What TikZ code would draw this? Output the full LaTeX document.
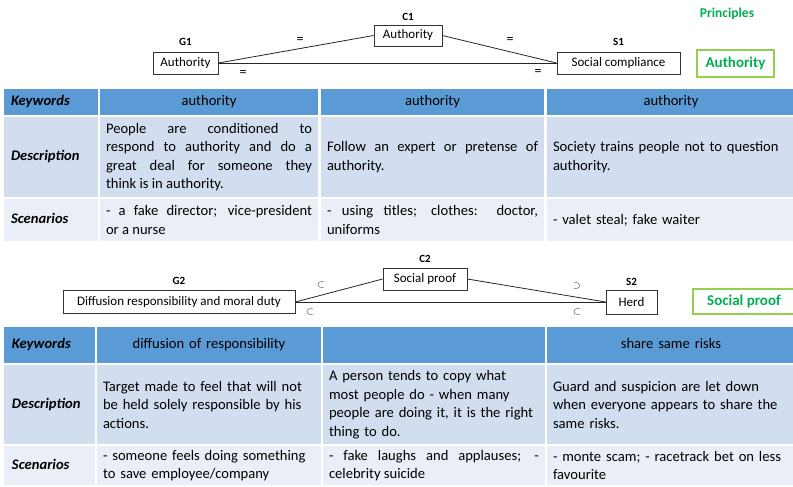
\documentclass[tikz,border=0pt]{standalone}
\usepackage{fontspec}
\setmainfont{Carlito}
\usetikzlibrary{positioning}

\definecolor{hdblue}{HTML}{5B9BD5}
\definecolor{descblue}{HTML}{D2DEEF}
\definecolor{scenblue}{HTML}{EAEFF7}
\definecolor{princgreen}{HTML}{00B050}
\definecolor{princframe}{HTML}{92D050}

\newcommand{\cellfont}{\fontsize{14.6}{18.5}\selectfont\hyphenpenalty 10000 \exhyphenpenalty 10000 }

\tikzstyle{concept}=[draw=black!80, line width=0.8pt, inner sep=0pt, minimum height=22pt, font=\fontsize{13}{15}\selectfont]
\tikzstyle{tag}=[font=\bfseries\fontsize{11}{12}\selectfont, inner sep=0pt]
\tikzstyle{rel}=[font=\fontsize{14}{15}\selectfont, inner sep=0pt]
\tikzstyle{link}=[line width=0.8pt, black!85]
\tikzstyle{principle}=[draw=princframe, line width=2pt, text=princgreen, inner sep=0pt, font=\bfseries\fontsize{15}{17}\selectfont]
\tikzstyle{cell}=[inner xsep=6pt, inner ysep=0pt, font=\cellfont]
\tikzstyle{hd}=[cell, fill=hdblue, align=center, text height=10.5pt, text depth=3pt]
\tikzstyle{desc}=[cell, fill=descblue]
\tikzstyle{scen}=[cell, fill=scenblue]
\tikzstyle{rowname}=[align=left, inner sep=0pt, text height=10.5pt, text depth=3pt, font=\bfseries\itshape\fontsize{14.6}{18.5}\selectfont]

\begin{document}
\begin{tikzpicture}[x=1pt, y=-1pt]
    \clip (0,0) rectangle (793,487);
    \fill[white] (0,0) rectangle (793,487);

    % first principle
    \node[text=princgreen, font=\bfseries\fontsize{13.5}{15}\selectfont] (princ) at (727,14) {Principles};
    \node[concept, minimum width=65pt] (g1) at (185.5,63) {Authority};
    \node[concept, minimum width=68pt, minimum height=21pt] (c1) at (408,35.5) {Authority};
    \node[concept, minimum width=123pt] (s1) at (618.5,63) {Social compliance};
    \node[tag, above=6pt of g1] (g1tag) {G1};
    \node[tag, above=4pt of c1] (c1tag) {C1};
    \node[tag, above=6pt of s1] (s1tag) {S1};
    \node[principle, minimum width=77pt, minimum height=27pt] (p1) at (735.5,63.5) {Authority};
    \draw[link] (g1.east) -- (c1.west);
    \draw[link] (c1.east) -- (s1.west);
    \draw[link] (g1.east) -- (s1.west);
    \node[rel] (r1) at (300,40) {=};
    \node[rel] (r2) at (510,40) {=};
    \node[rel] (r3) at (243,73) {=};
    \node[rel] (r4) at (538,72) {=};

    % first table
    \node[hd, minimum width=94pt, minimum height=26pt] (kw1) at (51,102) {};
    \node[rowname, anchor=west, xshift=7pt] (kw1t) at (kw1.west) {Keywords};
    \node[hd, text width=206pt, minimum height=26pt] (kw1a) at (209,102) {authority};
    \node[hd, text width=211pt, minimum height=26pt] (kw1b) at (432.5,102) {authority};
    \node[hd, text width=236pt, minimum height=26pt] (kw1c) at (671,102) {authority};

    \node[desc, minimum width=94pt, minimum height=80pt] (de1) at (51,157) {};
    \node[rowname, anchor=west, xshift=7pt] (de1t) at (de1.west) {Description};
    \node[desc, text width=206pt, minimum height=80pt, align=justify] (de1a) at (209,157)
        {People are conditioned to\linebreak respond to authority and do a\linebreak great deal for someone they\linebreak think is in authority.};
    \node[desc, text width=211pt, minimum height=80pt, align=justify] (de1b) at (432.5,157)
        {Follow an expert or pretense of\linebreak authority.};
    \node[desc, text width=236pt, minimum height=80pt, align=left] (de1c) at (671,157)
        {Society trains people not to question\\authority.};

    \node[scen, minimum width=94pt, minimum height=42pt] (sc1) at (51,220) {};
    \node[rowname, anchor=west, xshift=7pt] (sc1t) at (sc1.west) {Scenarios};
    \node[scen, text width=206pt, minimum height=42pt, align=justify] (sc1a) at (209,220)
        {- a fake director; vice-president\linebreak or a nurse};
    \node[scen, text width=211pt, minimum height=42pt, align=justify] (sc1b) at (432.5,220)
        {- using titles; clothes: doctor,\linebreak uniforms};
    \node[scen, text width=236pt, minimum height=42pt, align=left] (sc1c) at (671,220)
        {- valet steal; fake waiter};

    % second principle
    \node[concept, minimum width=232pt, minimum height=23pt] (g2) at (179,302) {Diffusion responsibility and moral duty};
    \node[concept, minimum width=84pt] (c2) at (425,279) {Social proof};
    \node[concept, minimum width=51pt, minimum height=24pt] (s2) at (631.5,302) {Herd};
    \node[tag, above=5pt of g2] (g2tag) {G2};
    \node[tag, above=5pt of c2] (c2tag) {C2};
    \node[tag, above=4pt of s2] (s2tag) {S2};
    \node[principle, minimum width=102pt, minimum height=25pt] (p2) at (744,301.5) {Social proof};
    \draw[link] (g2.east) -- (c2.west);
    \draw[link] (c2.east) -- (s2.west);
    \draw[link] (g2.east) -- (s2.west);
    \node[rel] (r5) at (321,285) {$\scriptstyle\subset$};
    \node[rel] (r6) at (310,312) {$\scriptstyle\subset$};
    \node[rel] (r7) at (577,286) {$\scriptstyle\supset$};
    \node[rel] (r8) at (577,312) {$\scriptstyle\subset$};

    % second table
    \node[hd, minimum width=91pt, minimum height=36pt] (kw2) at (49.5,345) {};
    \node[rowname, anchor=west, xshift=8pt] (kw2t) at (kw2.west) {Keywords};
    \node[hd, text width=212pt, minimum height=36pt] (kw2a) at (209,345) {diffusion of responsibility};
    \node[hd, text width=210pt, minimum height=36pt] (kw2b) at (434,345) {};
    \node[hd, text width=236pt, minimum height=36pt] (kw2c) at (671,345) {share same risks};

    \node[desc, minimum width=91pt, minimum height=79pt] (de2) at (49.5,404.5) {};
    \node[rowname, anchor=west, xshift=8pt] (de2t) at (de2.west) {Description};
    \node[desc, text width=212pt, minimum height=79pt, align=left] (de2a) at (209,404.5)
        {Target made to feel that will not\\be held solely responsible by his\\actions.};
    \node[desc, text width=210pt, minimum height=79pt, align=left] (de2b) at (434,404.5)
        {A person tends to copy what\\most people do - when many\\people are doing it, it is the right\\thing to do.};
    \node[desc, text width=236pt, minimum height=79pt, align=left] (de2c) at (671,404.5)
        {Guard and suspicion are let down\\when everyone appears to share the\\same risks.};

    \node[scen, minimum width=91pt, minimum height=39pt] (sc2) at (49.5,465.5) {};
    \node[rowname, anchor=west, xshift=8pt] (sc2t) at (sc2.west) {Scenarios};
    \node[scen, text width=212pt, minimum height=39pt, align=left] (sc2a) at (209,465.5)
        {- someone feels doing something\\to save employee/company};
    \node[scen, text width=210pt, minimum height=39pt, align=justify] (sc2b) at (434,465.5)
        {- fake laughs and applauses; -\linebreak celebrity suicide};
    \node[scen, text width=236pt, minimum height=39pt, align=left] (sc2c) at (671,465.5)
        {- monte scam; - racetrack bet on less\\favourite};
\end{tikzpicture}
\end{document}
